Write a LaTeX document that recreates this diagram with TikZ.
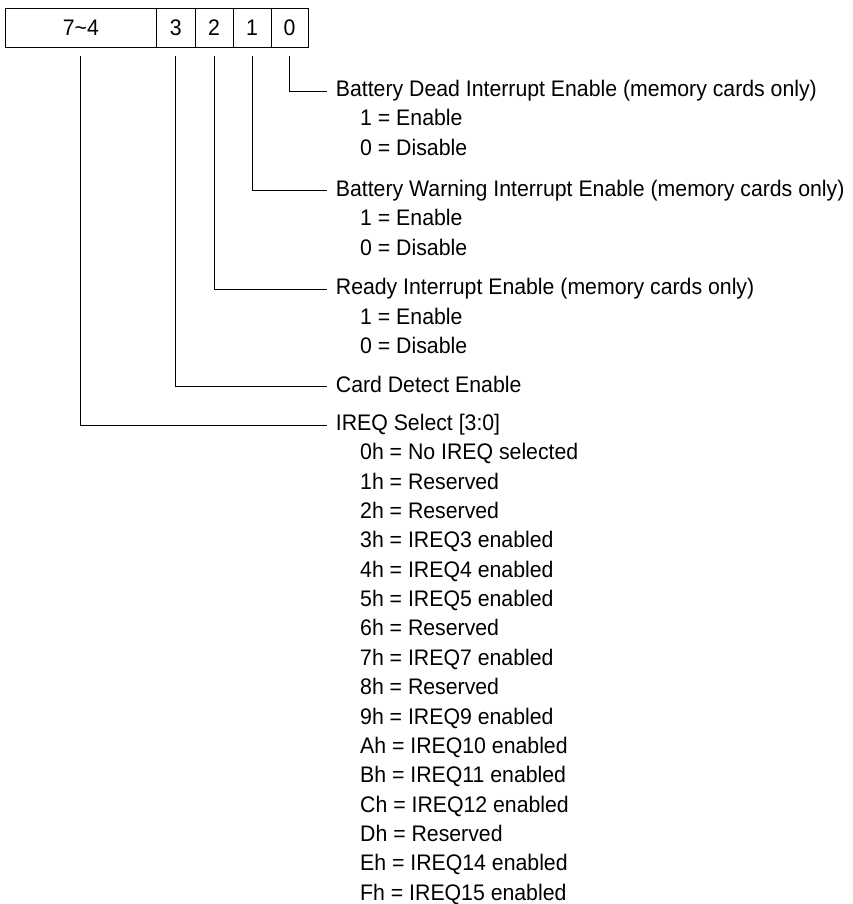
\documentclass[tikz,border=0pt]{standalone}
\usepackage{fontspec}
\setmainfont{Liberation Sans}[FakeStretch=0.945]
\begin{document}
\begin{tikzpicture}[x=1pt,y=-1pt,
  font=\fontsize{22.5}{26}\selectfont,
  cell/.style={draw, line width=0.8pt, inner sep=0pt, minimum height=39pt},
  txt/.style={anchor=base west, inner sep=0pt},
  conn/.style={draw, line width=0.8pt}]
\useasboundingbox (0,0) rectangle (852,904);
% register cells
\node[cell, minimum width=151.7pt] (c74) at (80.85,27.8) {7\textasciitilde 4};
\node[cell, minimum width=38.3pt] (c3) at (175.85,27.8) {3};
\node[cell, minimum width=38.3pt] (c2) at (214.15,27.8) {2};
\node[cell, minimum width=37.7pt] (c1) at (252.15,27.8) {1};
\node[cell, minimum width=37.3pt] (c0) at (289.65,27.8) {0};
% bit 0
\node[txt] (h0) at (335.7,96.5) {Battery Dead Interrupt Enable (memory cards only)};
\node[txt] (h0a) at (360,126) {1 = Enable};
\node[txt] (h0b) at (360,155.5) {0 = Disable};
% bit 1
\node[txt] (h1) at (335.7,196.2) {Battery Warning Interrupt Enable (memory cards only)};
\node[txt] (h1a) at (360,225.7) {1 = Enable};
\node[txt] (h1b) at (360,255.2) {0 = Disable};
% bit 2
\node[txt] (h2) at (335.7,294.5) {Ready Interrupt Enable (memory cards only)};
\node[txt] (h2a) at (360,324) {1 = Enable};
\node[txt] (h2b) at (360,353.5) {0 = Disable};
% bit 3
\node[txt] (h3) at (335.7,392.2) {Card Detect Enable};
% bits 7-4
\node[txt] (h4) at (335.7,430.5) {IREQ Select [3:0]};
\foreach \t [count=\i] in {0h = No IREQ selected, 1h = Reserved, 2h = Reserved,
  3h = IREQ3 enabled, 4h = IREQ4 enabled, 5h = IREQ5 enabled, 6h = Reserved,
  7h = IREQ7 enabled, 8h = Reserved, 9h = IREQ9 enabled, Ah = IREQ10 enabled,
  Bh = IREQ11 enabled, Ch = IREQ12 enabled, Dh = Reserved, Eh = IREQ14 enabled,
  Fh = IREQ15 enabled}
  \node[txt] (r\i) at (360,{430.5+29.35*\i}) {\t};
% connectors
\draw[conn] ([yshift=-8.7pt]c0.south) |- ([shift={(-9pt,5.5pt)}]h0.base west);
\draw[conn] ([yshift=-8.7pt]c1.south) |- ([shift={(-9pt,5.5pt)}]h1.base west);
\draw[conn] ([yshift=-8.7pt]c2.south) |- ([shift={(-9pt,5.5pt)}]h2.base west);
\draw[conn] ([yshift=-8.7pt]c3.south) |- ([shift={(-9pt,5.5pt)}]h3.base west);
\draw[conn] ([yshift=-8.7pt]c74.south) |- ([shift={(-9pt,5.5pt)}]h4.base west);
\end{tikzpicture}
\end{document}
